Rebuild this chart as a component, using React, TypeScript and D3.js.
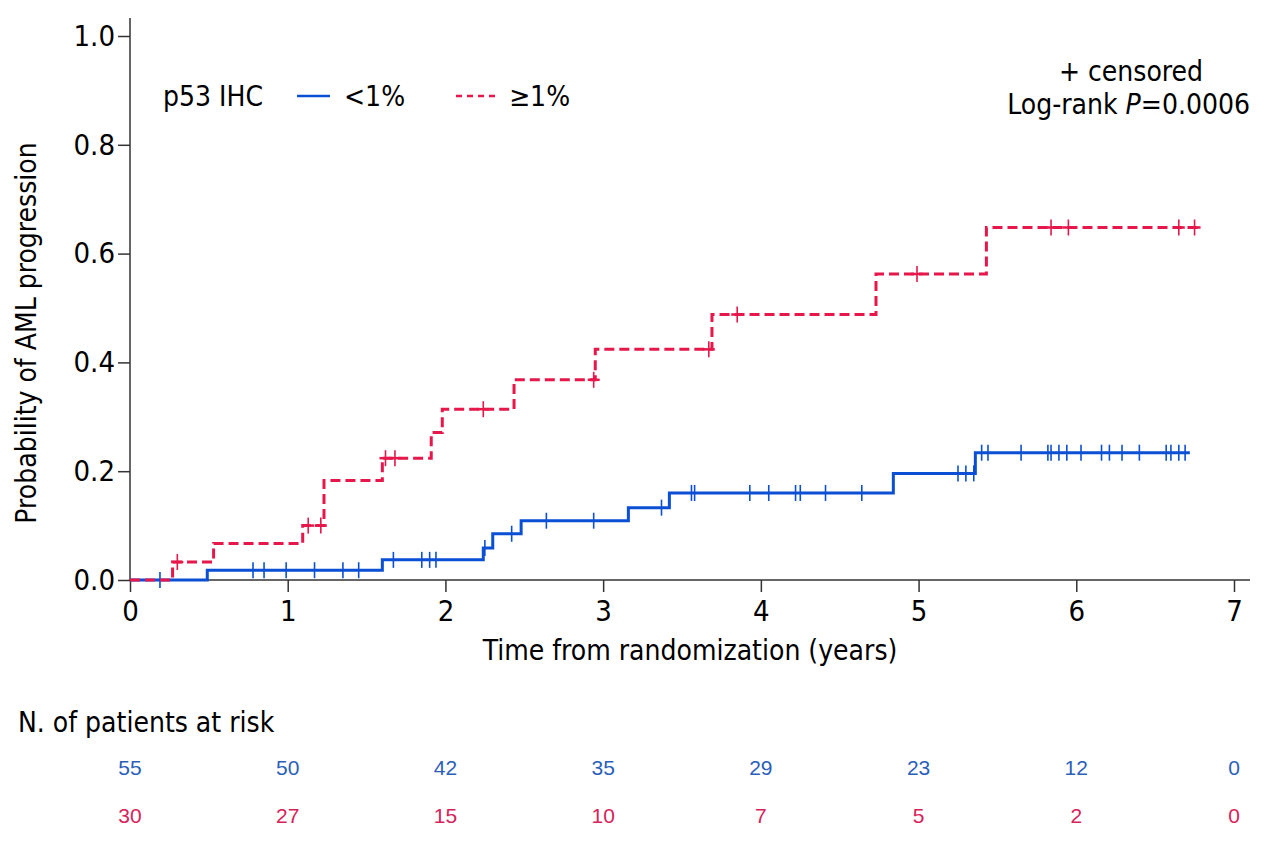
import React, { useEffect, useRef } from "react";
import * as d3 from "d3";

// step points (time in years, cumulative probability)
const lowTimes = [0, 0.49, 1.6, 2.24, 2.3, 2.48, 3.16, 3.42, 4.84, 5.36, 6.72];
const lowProbs = [0, 0.018, 0.037, 0.059, 0.085, 0.109, 0.133, 0.16, 0.196, 0.234, 0.234];
const highTimes = [0, 0.27, 0.53, 1.095, 1.23, 1.6, 1.91, 1.98, 2.435, 2.95, 3.69, 4.73, 5.43, 6.77];
const highProbs = [0, 0.033, 0.067, 0.1, 0.183, 0.224, 0.271, 0.314, 0.368, 0.424, 0.488, 0.5625, 0.648, 0.648];

// censored observations
const lowCensored = [
  0.19, 0.78, 0.85, 0.99, 1.17, 1.35, 1.45, 1.67, 1.85, 1.9, 1.94, 2.25, 2.42, 2.64, 2.94, 3.37,
  3.56, 3.58, 3.93, 4.05, 4.22, 4.25, 4.41, 4.64, 5.25, 5.3, 5.35, 5.4, 5.44, 5.65, 5.82, 5.84,
  5.89, 5.94, 6.03, 6.16, 6.21, 6.29, 6.4, 6.57, 6.6, 6.65, 6.69,
];
const highCensored = [0.3, 1.13, 1.21, 1.62, 1.68, 2.24, 2.94, 3.67, 3.85, 4.99, 5.84, 5.95, 6.65, 6.75];

// numbers at risk
const riskTimes = [0, 1, 2, 3, 4, 5, 6, 7];
const lowRisk = [55, 50, 42, 35, 29, 23, 12, 0];
const highRisk = [30, 27, 15, 10, 7, 5, 2, 0];

const xTicks = [0, 1, 2, 3, 4, 5, 6, 7];
const yTicks = [0, 0.2, 0.4, 0.6, 0.8, 1.0];

const BLUE = "#0b4fd4";
const RED = "#e5174b";
const BLUE_TXT = "#2b60b8";
const RED_TXT = "#d6235a";
const FONT = "'Liberation Sans Narrow', 'DejaVu Sans Condensed', sans-serif";

const App: React.FC = () => {
  const svgRef = useRef<SVGSVGElement | null>(null);

  useEffect(() => {
    const svg = d3.select(svgRef.current);
    svg.selectAll("*").remove();

    const width = 1280;
    const height = 852;
    const margin = { top: 36, left: 130, right: 46, bottom: 272 };

    const x = d3.scaleLinear().domain([0, 7]).range([margin.left, width - margin.right]);
    const y = d3.scaleLinear().domain([0, 1]).range([height - margin.bottom, margin.top]);

    svg.attr("width", width).attr("height", height);
    svg.append("rect").attr("width", width).attr("height", height).attr("fill", "#fff");

    // axes
    const xAxis = svg
      .append("g")
      .attr("transform", `translate(0,${y(0)})`)
      .call(d3.axisBottom(x).tickValues(xTicks).tickSize(12).tickSizeOuter(0).tickFormat(d3.format("d")));
    xAxis.select(".domain").attr("d", `M${x(0)},0H${x(7) + 16}`);

    const yAxis = svg
      .append("g")
      .attr("transform", `translate(${x(0)},0)`)
      .call(d3.axisLeft(y).tickValues(yTicks).tickSize(12).tickSizeOuter(0).tickFormat(d3.format(".1f")));
    yAxis.select(".domain").attr("d", `M0,${y(0)}V18`);

    svg.selectAll(".tick line").attr("stroke", "#333").attr("stroke-width", 1.5);
    svg.selectAll(".domain").attr("stroke", "#333").attr("stroke-width", 1.5);
    svg
      .selectAll(".tick text")
      .attr("fill", "#000")
      .style("font-family", FONT)
      .style("font-size", "29px");
    xAxis.selectAll(".tick text").attr("dy", "0.9em");
    yAxis.selectAll(".tick text").attr("x", -15);

    // axis titles
    svg
      .append("text")
      .attr("x", (x(0) + x(7)) / 2 + 8)
      .attr("y", 660)
      .attr("text-anchor", "middle")
      .style("font-family", FONT)
      .style("font-size", "28px")
      .text("Time from randomization (years)");
    svg
      .append("text")
      .attr("transform", `translate(36,${(y(0) + y(1)) / 2 + 25}) rotate(-90)`)
      .attr("text-anchor", "middle")
      .style("font-family", FONT)
      .style("font-size", "28px")
      .text("Probability of AML progression");

    const line = d3
      .line<[number, number]>()
      .x((d) => x(d[0]))
      .y((d) => y(d[1]))
      .curve(d3.curveStepAfter);

    const stepAt = (times: number[], probs: number[], t: number) => {
      const i = d3.bisectRight(times, t) - 1;
      return probs[Math.max(0, i)];
    };

    const drawGroup = (
      times: number[],
      probs: number[],
      censored: number[],
      color: string,
      dash: string | null,
      plus: boolean
    ) => {
      const pts = times.map((t, i) => [t, probs[i]] as [number, number]);
      svg
        .append("path")
        .datum(pts)
        .attr("d", line)
        .attr("fill", "none")
        .attr("stroke", color)
        .attr("stroke-width", 3)
        .attr("stroke-dasharray", dash);
      const g = svg.append("g").attr("stroke", color).attr("stroke-width", 1.6);
      censored.forEach((t) => {
        const cx = x(t);
        const cy = y(stepAt(times, probs, t));
        g.append("line").attr("x1", cx).attr("x2", cx).attr("y1", cy - 8).attr("y2", cy + 8);
        if (plus) {
          g.append("line").attr("x1", cx - 6).attr("x2", cx + 6).attr("y1", cy).attr("y2", cy).attr("stroke-width", 2.5);
        }
      });
    };

    drawGroup(lowTimes, lowProbs, lowCensored, BLUE, null, false);
    drawGroup(highTimes, highProbs, highCensored, RED, "10,5", true);

    // legend
    const legY = 96;
    svg
      .append("text")
      .attr("x", 163)
      .attr("y", legY + 10)
      .style("font-family", FONT)
      .style("font-size", "28px")
      .text("p53 IHC");
    svg.append("line").attr("x1", 297).attr("x2", 330).attr("y1", legY).attr("y2", legY).attr("stroke", BLUE).attr("stroke-width", 2.5);
    svg
      .append("text")
      .attr("x", 344)
      .attr("y", legY + 10)
      .style("font-family", FONT)
      .style("font-size", "28px")
      .text("<1%");
    svg
      .append("line")
      .attr("x1", 456)
      .attr("x2", 497)
      .attr("y1", legY)
      .attr("y2", legY)
      .attr("stroke", RED)
      .attr("stroke-width", 2.5)
      .attr("stroke-dasharray", "6,5");
    svg
      .append("text")
      .attr("x", 509)
      .attr("y", legY + 10)
      .style("font-family", FONT)
      .style("font-size", "28px")
      .text("≥1%");

    // annotation
    svg
      .append("text")
      .attr("x", 1131)
      .attr("y", 81)
      .attr("text-anchor", "middle")
      .style("font-family", FONT)
      .style("font-size", "28px")
      .text("+ censored");
    const lr = svg
      .append("text")
      .attr("x", 1250)
      .attr("y", 114)
      .attr("text-anchor", "end")
      .style("font-family", FONT)
      .style("font-size", "28px");
    lr.append("tspan").text("Log-rank ");
    lr.append("tspan").style("font-style", "italic").text("P");
    lr.append("tspan").text("=0.0006");

    // numbers at risk
    svg
      .append("text")
      .attr("x", 18)
      .attr("y", 732)
      .style("font-family", FONT)
      .style("font-size", "28px")
      .text("N. of patients at risk");

    const riskRow = (vals: number[], color: string, yy: number) => {
      svg
        .append("g")
        .selectAll("text")
        .data(vals)
        .join("text")
        .attr("x", (_, i) => x(riskTimes[i]))
        .attr("y", yy)
        .attr("text-anchor", "middle")
        .attr("fill", color)
        .style("font-family", "'Liberation Sans', Arial, sans-serif")
        .style("font-size", "21px")
        .text((d) => d);
    };
    riskRow(lowRisk, BLUE_TXT, 775);
    riskRow(highRisk, RED_TXT, 823);
  }, []);

  return (
    <div style={{ position: "absolute", left: 0, top: 0 }}>
      <svg ref={svgRef} style={{ display: "block" }}></svg>
    </div>
  );
};

export default App;
